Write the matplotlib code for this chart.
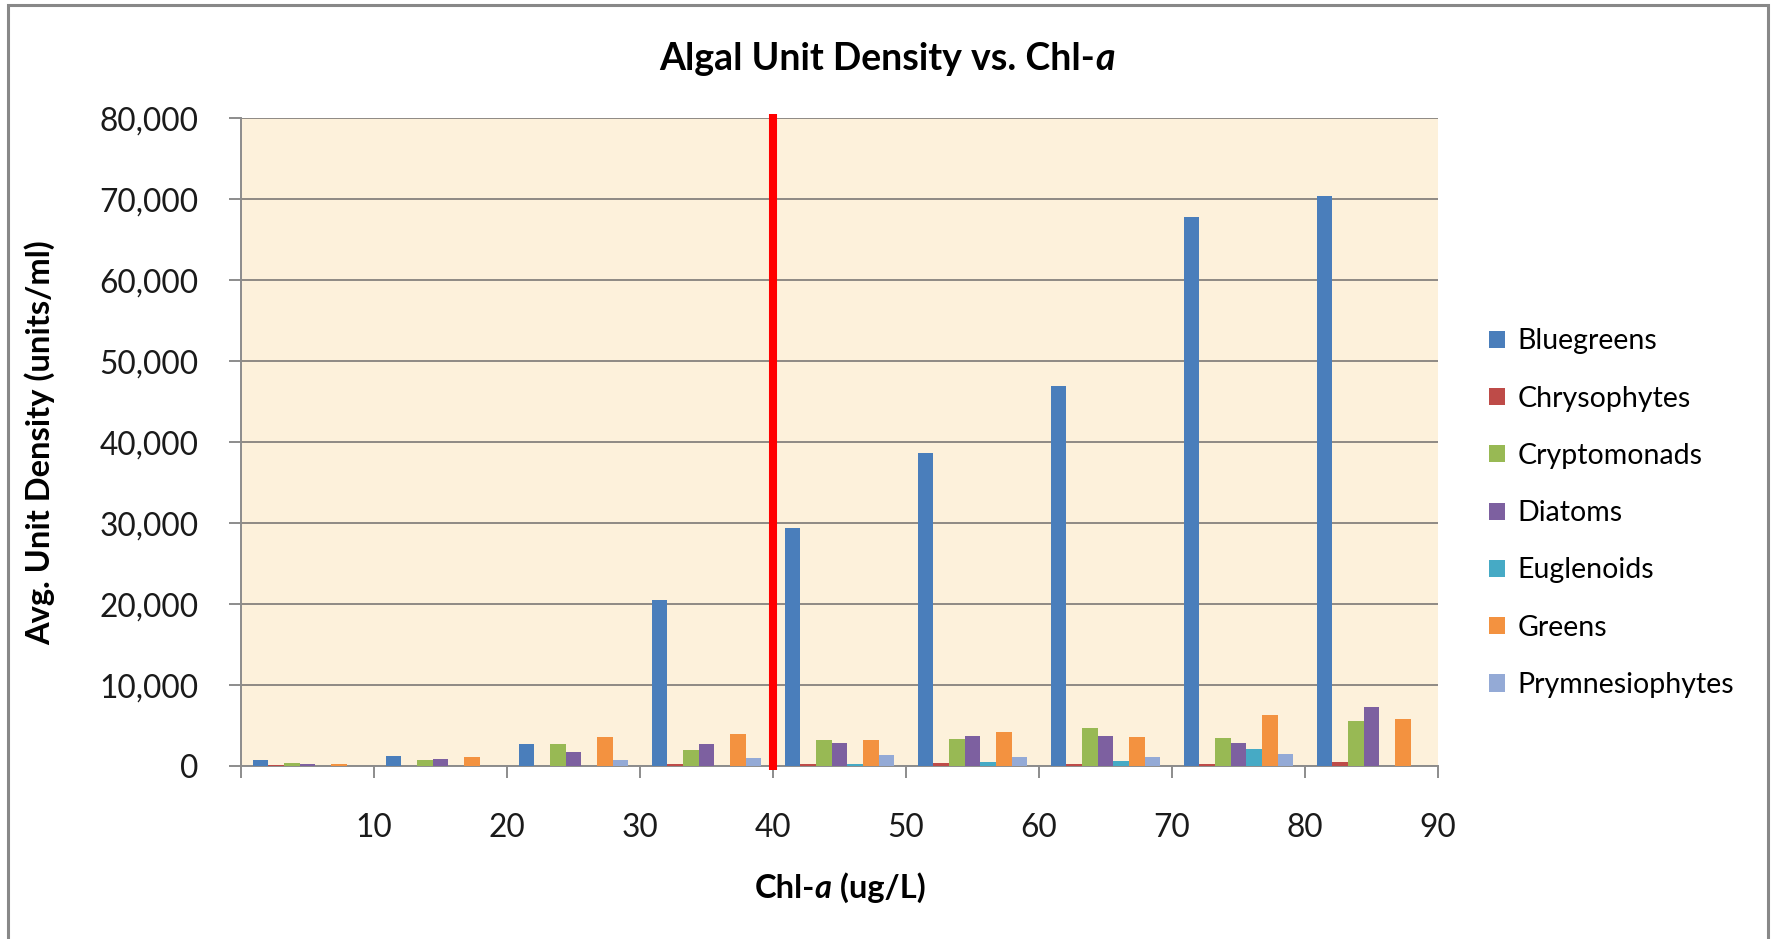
import matplotlib
matplotlib.use("Agg")
import matplotlib.pyplot as plt
import numpy as np
from matplotlib.patches import Rectangle
from matplotlib.offsetbox import TextArea, HPacker, AnchoredOffsetbox
from matplotlib.ticker import FuncFormatter

plt.rcParams['font.family'] = ['Lato', 'DejaVu Sans']

# Chl-a bins (upper edge of each 10 ug/L class)
bin_edges = [0, 10, 20, 30, 40, 50, 60, 70, 80, 90]
tick_labels = ["", "10", "20", "30", "40", "50", "60", "70", "80", "90"]

groups = ["Bluegreens", "Chrysophytes", "Cryptomonads", "Diatoms",
          "Euglenoids", "Greens", "Prymnesiophytes"]

bluegreens      = [800, 1280, 2680, 20450, 29400, 38600, 46900, 67800, 70400]
chrysophytes    = [170, 0, 0, 300, 280, 400, 200, 200, 530]
cryptomonads    = [420, 740, 2680, 2000, 3200, 3300, 4750, 3500, 5600]
diatoms         = [250, 900, 1770, 2700, 2880, 3700, 3700, 2850, 7350]
euglenoids      = [0, 0, 0, 0, 200, 450, 620, 2150, 0]
greens          = [200, 1070, 3580, 3950, 3200, 4200, 3550, 6300, 5800]
prymnesiophytes = [0, 0, 780, 950, 1360, 1100, 1100, 1430, 0]

series = [bluegreens, chrysophytes, cryptomonads, diatoms,
          euglenoids, greens, prymnesiophytes]
colors = ["#4A7EBB", "#BE4B48", "#98B954", "#7D60A0",
          "#46AAC5", "#F39240", "#94AAD6"]

threshold = 40  # ug/L

fig = plt.figure(figsize=(17.74, 9.39), dpi=100)
fig.patch.set_facecolor("white")

ax = fig.add_axes([0.1359, 0.1842, 0.6747, 0.6901])
ax.set_facecolor("#FDF1DB")

n = len(groups)
group_w = 10.0
bar_w = group_w / (n + 1.5)
centers = np.array(bin_edges[:-1]) + group_w / 2
for i, (vals, c) in enumerate(zip(series, colors)):
    x = centers + (i - (n - 1) / 2) * bar_w
    ax.bar(x, vals, width=bar_w, color=c, label=groups[i], zorder=3,
           linewidth=0)

ax.set_xlim(0, 90)
ax.set_ylim(0, 80000)
ax.set_yticks(np.arange(0, 80001, 10000))
ax.yaxis.set_major_formatter(FuncFormatter(lambda v, p: f"{int(v):,}"))
ax.set_xticks(bin_edges)
ax.set_xticklabels(tick_labels)

ax.grid(axis="y", color="#8E8A84", linewidth=1.4, zorder=1)
for side in ["top", "right"]:
    ax.spines[side].set_visible(False)
for side in ["left", "bottom"]:
    ax.spines[side].set_color("#8C8C8C")
    ax.spines[side].set_linewidth(1.4)
ax.tick_params(axis="both", direction="out", length=8.6, width=1.4,
               color="#8C8C8C", labelsize=22.8, labelcolor="#1A1A1A")
ax.tick_params(axis="y", pad=22)
ax.tick_params(axis="x", pad=25)

# threshold marker
ax.plot([threshold, threshold], [-500, 80500], color="#FF0000",
        linewidth=5.8, zorder=5, clip_on=False, solid_capstyle="butt")

# axis titles
fig.text(0.0225, 0.529, "Avg. Unit Density (units/ml)", rotation=90,
         ha="center", va="center", fontsize=23.5, fontweight="bold")


def mixed_title(parts, size, y):
    boxes = [TextArea(t, textprops=dict(fontsize=size, fontweight="bold",
                                        fontstyle=st, color="black"))
             for t, st in parts]
    pack = HPacker(children=boxes, align="baseline", pad=0, sep=0)
    anch = AnchoredOffsetbox(loc="center", child=pack, pad=0, borderpad=0,
                             frameon=False, bbox_to_anchor=y,
                             bbox_transform=fig.transFigure)
    fig.add_artist(anch)


mixed_title([("Algal Unit Density vs. Chl-", "normal"), ("a", "italic")],
            27, (0.5, 0.938))
mixed_title([("Chl-", "normal"), ("a", "italic"), (" (ug/L)", "normal")],
            23.5, (0.4735, 0.055))

ax.legend(loc="center left", bbox_to_anchor=(0.8395, 0.4535),
          bbox_transform=fig.transFigure, frameon=False, fontsize=20.5,
          handlelength=0.55, handleheight=0.55, handletextpad=0.45,
          labelspacing=1.1, borderpad=0, borderaxespad=0)

# chart frame
fig.add_artist(Rectangle((8 / 1774, -0.05), 1760 / 1774, 1 - 5 / 939 + 0.05,
                         transform=fig.transFigure, fill=False,
                         edgecolor="#888888", linewidth=2.2, clip_on=False))

fig.savefig("out.png", dpi=100)
